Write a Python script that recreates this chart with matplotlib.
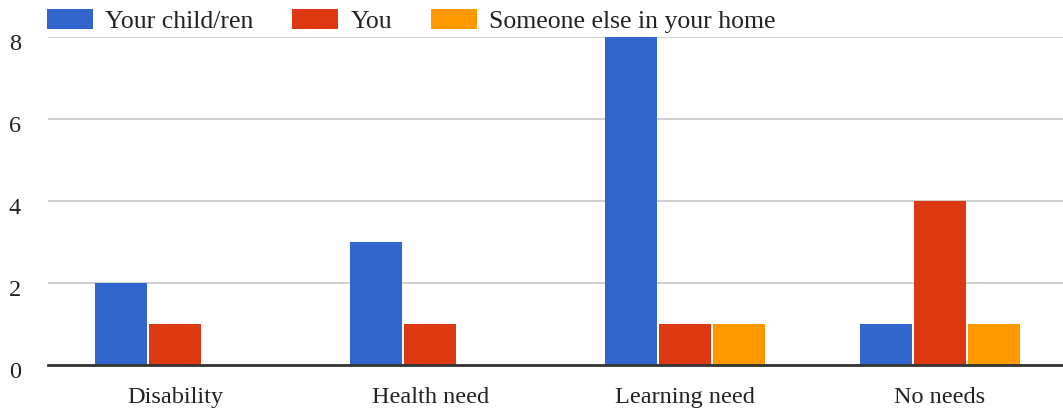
import matplotlib
matplotlib.use("Agg")
import matplotlib.pyplot as plt
import matplotlib.transforms as mtrans
import numpy as np
from matplotlib.patches import Patch

categories = ["Disability", "Health need", "Learning need", "No needs"]
series_names = ["Your child/ren", "You", "Someone else in your home"]
child = [2, 3, 8, 1]
you = [1, 1, 1, 4]
someone = [0, 0, 1, 1]
colors = ["#3366cc", "#dc3912", "#ff9900"]
yticks = [0, 2, 4, 6, 8]

plt.rcParams['font.family'] = ['Liberation Serif', 'DejaVu Serif']
FS = 17.5
LFS = 18.5
em = LFS * 100 / 72

fig = plt.figure(figsize=(10.63, 4.16), dpi=100)
L, R = 48, 1067
ax = fig.add_axes([L/1063, 1-365/416, (R-L)/1063, (365-37)/416])

x = np.arange(len(categories))
step = 0.212
width = 0.204
for i, (vals, c) in enumerate(zip([child, you, someone], colors)):
    ax.bar(x + (i-1)*step, vals, width=width, color=c, zorder=3, clip_on=False)

ax.set_xlim(-0.5, len(categories)-0.5)
ax.set_ylim(0, 8)
ax.set_yticks(yticks)
ax.set_yticklabels([str(t) for t in yticks])
ax.set_xticks(x)
ax.set_xticklabels(categories)
ax.tick_params(axis='both', length=0, labelsize=FS, colors="#222222")
ax.tick_params(axis='y', pad=19.5)
ax.tick_params(axis='x', pad=16)
off = mtrans.ScaledTranslation(0, -5/100, fig.dpi_scale_trans)
for lab in ax.get_yticklabels():
    lab.set_transform(lab.get_transform() + off)
ax.grid(axis='y', color='#cccccc', linewidth=1.3, zorder=0)
ax.axhline(0, color='#333333', linewidth=2, zorder=4, clip_on=False)
for s in ax.spines.values():
    s.set_visible(False)

handles = [Patch(facecolor=c, edgecolor='none') for c in colors]
fig.legend(handles, series_names, loc='center left', bbox_to_anchor=(47/1063, 1-21/416),
           ncol=3, frameon=False, fontsize=LFS, handlelength=46/em, handleheight=21/em,
           handletextpad=12/em, columnspacing=39/em, borderaxespad=0, borderpad=0,
           labelcolor="#222222")

fig.savefig("out.png", dpi=100)
